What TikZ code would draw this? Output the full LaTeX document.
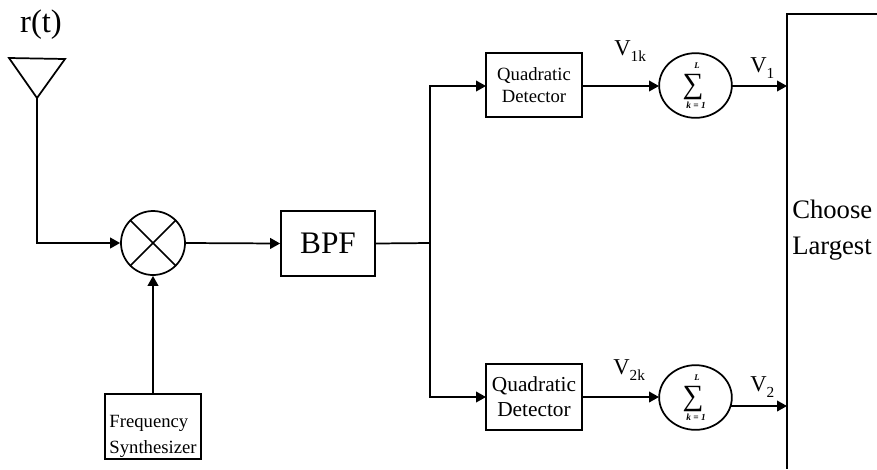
\documentclass[tikz,border=0pt]{standalone}
\usepackage{fontspec}
\setmainfont{Liberation Serif}
\usetikzlibrary{arrows.meta,shapes.geometric}
\tikzset{
  x=0.75pt,y=-0.75pt,
  wire/.style={line width=1.3pt,-{Triangle[length=7.5pt,width=8pt]}},
  plain/.style={line width=1.3pt},
  blockbox/.style={draw,line width=1.3pt,inner sep=0pt,align=center},
  sumcirc/.style={draw,ellipse,line width=1.3pt,inner sep=0pt,minimum width=54.5pt,minimum height=48.5pt},
  sigmasym/.style={inner sep=0pt,font=\fontsize{22}{22}\selectfont},
  upperlim/.style={inner sep=0pt,font=\fontsize{6.5}{7}\selectfont\bfseries\itshape},
  lowerlim/.style={inner sep=0pt,font=\fontsize{7}{8}\selectfont\bfseries\itshape},
  vlab/.style={inner sep=0pt,font=\fontsize{17}{19}\selectfont}
}
\begin{document}
\begin{tikzpicture}
\useasboundingbox (0,0) rectangle (877,469);
\node[inner sep=0pt,font=\fontsize{24.5}{28}\selectfont] (rt) at (41,25) {r(t)};
\coordinate (a1) at (9,58);
\coordinate (a2) at (65,59);
\coordinate (a3) at (37,98);
\draw[plain,line join=miter] (a1)--(a2)--(a3)--cycle;
\node[draw,circle,line width=1.3pt,minimum size=48pt,inner sep=0pt] (mix) at (153,243) {};
\draw[plain] (mix.45)--(mix.225) (mix.135)--(mix.315);
\node[blockbox,minimum width=70.5pt,minimum height=48.5pt,font=\fontsize{23.5}{26}\selectfont] (bpf) at (328,243.5) {BPF};
\node[draw,line width=1.3pt,inner sep=0pt,minimum width=72pt,minimum height=48.5pt] (fs) at (153,426.5) {};
\node[inner sep=0pt,align=left,font=\fontsize{14}{19.5}\selectfont] (fst) at (153,436) {Frequency\\Synthesizer};
\node[blockbox,minimum width=72pt,minimum height=48pt,font=\fontsize{14}{16.5}\selectfont] (q1) at (534,85) {Quadratic\\Detector};
\node[blockbox,minimum width=72pt,minimum height=49.5pt,font=\fontsize{16}{19}\selectfont] (q2) at (534,397) {Quadratic\\Detector};
\node[sumcirc] (s1) at (695.5,85.5) {};
\node[sumcirc] (s2) at (695.5,397.5) {};
\node[sigmasym] (sg1) at (693,87) {∑};
\node[upperlim] (u1) at (697,66) {L};
\node[lowerlim] (l1) at (696,105) {k = 1};
\node[sigmasym] (sg2) at (693,399) {∑};
\node[upperlim] (u2) at (697,378) {L};
\node[lowerlim] (l2) at (696,417) {k = 1};
\coordinate (j) at (430,243);
\coordinate (jt) at (430,86);
\coordinate (jb) at (430,397);
\coordinate (bt) at (787,14);
\coordinate (bb) at (787,469);
\coordinate (br) at (877,14);
\coordinate (e1) at (787,86);
\coordinate (e2) at (787,406);
\coordinate (o2) at (731,406);
\coordinate (qe1) at (582,86);
\coordinate (qe2) at (582,397);
\coordinate (qw1) at (486,86);
\coordinate (qw2) at (486,397);
\coordinate (se1) at (659,86);
\coordinate (se2) at (659,397);
\coordinate (so1) at (732,86);
\draw[plain] (br)--(bt)--(bb);
\draw[wire] (a3)|-(mix.west);
\draw[wire] (mix.east)--(bpf.west);
\draw[wire] (fs.north)--(mix.south);
\draw[plain] (bpf.east)--(j);
\draw[wire] (j)--(jt)--(qw1);
\draw[wire] (j)--(jb)--(qw2);
\draw[wire] (qe1)--(se1);
\draw[wire] (qe2)--(se2);
\draw[wire] (so1)--(e1);
\draw[wire] (o2)--(e2);
\node[vlab,anchor=west] (v1k) at (614,51) {V\raisebox{-0.28em}{\fontsize{11.5}{13}\selectfont 1k}};
\node[vlab,anchor=west] (v2k) at (613,370) {V\raisebox{-0.28em}{\fontsize{11.5}{13}\selectfont 2k}};
\node[vlab,anchor=west] (v1) at (750,68) {V\raisebox{-0.28em}{\fontsize{11.5}{13}\selectfont 1}};
\node[vlab,anchor=west] (v2) at (750,387) {V\raisebox{-0.28em}{\fontsize{11.5}{13}\selectfont 2}};
\node[inner sep=0pt,align=left,font=\fontsize{20}{27}\selectfont,anchor=west] (ch) at (792,230) {Choose\\Largest};
\end{tikzpicture}
\end{document}
